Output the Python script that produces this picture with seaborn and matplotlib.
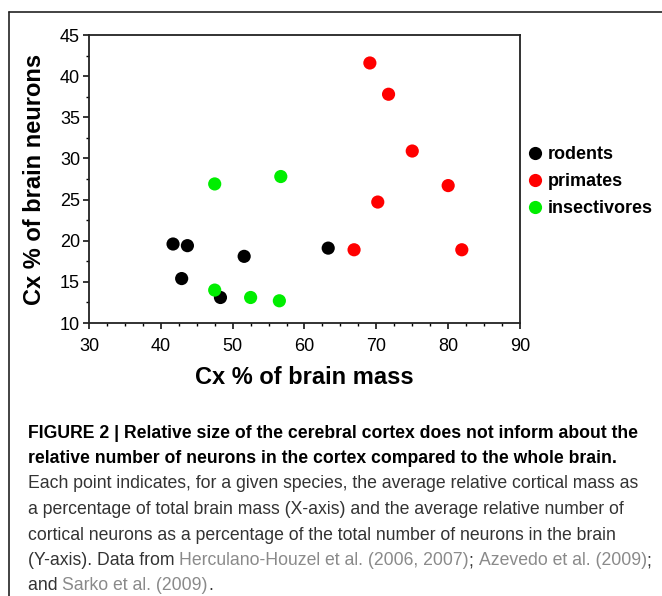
import matplotlib
matplotlib.use("Agg")
import matplotlib.pyplot as plt
from matplotlib.lines import Line2D
from matplotlib.ticker import MultipleLocator
import pandas as pd
import seaborn as sns

# values
rodents_x = [41.7, 43.7, 42.9, 48.3, 51.6, 63.3]
rodents_y = [19.6, 19.4, 15.4, 13.1, 18.1, 19.1]
primates_x = [69.1, 71.7, 75.0, 80.0, 70.2, 66.9, 81.9]
primates_y = [41.6, 37.8, 30.9, 26.7, 24.7, 18.9, 18.9]
insect_x = [47.5, 56.7, 47.5, 52.5, 56.5]
insect_y = [26.9, 27.8, 14.0, 13.1, 12.7]
groups = ["rodents", "primates", "insectivores"]
colors = {"rodents": "#000000", "primates": "#ff0000", "insectivores": "#00ee00"}

df = pd.concat([
    pd.DataFrame({"mass": rodents_x, "neurons": rodents_y, "group": "rodents"}),
    pd.DataFrame({"mass": primates_x, "neurons": primates_y, "group": "primates"}),
    pd.DataFrame({"mass": insect_x, "neurons": insect_y, "group": "insectivores"}),
])

sns.set_style("ticks")
plt.rcParams["font.family"] = ["Liberation Sans", "DejaVu Sans"]
plt.rcParams["text.color"] = "black"
plt.rcParams["axes.labelcolor"] = "black"
plt.rcParams["xtick.color"] = "black"
plt.rcParams["ytick.color"] = "black"

W, H = 662, 596
fig = plt.figure(figsize=(W / 100, H / 100), dpi=100)
ax = fig.add_axes([89 / W, 1 - 323 / H, (520 - 89) / W, (323 - 35) / H])

sns.scatterplot(data=df, x="mass", y="neurons", hue="group", hue_order=groups,
                palette=colors, s=90, edgecolor="none", ax=ax, legend=False)

ax.set_xlim(30, 90)
ax.set_ylim(10, 45)
ax.xaxis.set_major_locator(MultipleLocator(10))
ax.xaxis.set_minor_locator(MultipleLocator(2.5))
ax.yaxis.set_major_locator(MultipleLocator(5))
ax.yaxis.set_minor_locator(MultipleLocator(2.5))
ax.tick_params(which="major", length=4.5, width=1.1, labelsize=13, color="black")
ax.tick_params(axis="x", which="major", pad=6)
ax.tick_params(axis="y", which="major", pad=2)
ax.tick_params(which="minor", length=2.5, width=1.0, color="black")
for sp in ax.spines.values():
    sp.set_visible(True)
    sp.set_linewidth(1.3)
    sp.set_color("#222222")

ax.set_xlabel("Cx % of brain mass", fontsize=17, fontweight="bold", labelpad=8)
ax.set_ylabel("Cx % of brain neurons", fontsize=17, fontweight="bold", labelpad=10)

handles = [Line2D([], [], marker="o", linestyle="none", markersize=9.5,
                  markerfacecolor=colors[g], markeredgecolor="none") for g in groups]
fig.legend(handles, groups, loc="upper left", bbox_to_anchor=(508 / W, 1 - 130 / H),
           frameon=False, handletextpad=0.1, labelspacing=0.55,
           handlelength=1.2, prop={"weight": "bold", "size": 13})

# frame around the figure panel
fig.add_artist(Line2D([9 / W, 9 / W], [0, 1 - 12 / H], color="#222222", lw=1.2))
fig.add_artist(Line2D([9 / W, 1], [1 - 12 / H, 1 - 12 / H], color="#222222", lw=1.2))

# caption
cap = fig.add_axes([0, 0, 1, 1])
cap.axis("off")
cap.set_zorder(-1)
cfont = ["Liberation Sans", "DejaVu Sans"]
dark = "#333333"
grey = "#8a8a8a"
x0 = 28 / W
lines = [
    [("FIGURE 2 | Relative size of the cerebral cortex does not inform about the", "black", "bold")],
    [("relative number of neurons in the cortex compared to the whole brain.", "black", "bold")],
    [("Each point indicates, for a given species, the average relative cortical mass as", dark, "normal")],
    [("a percentage of total brain mass (X-axis) and the average relative number of", dark, "normal")],
    [("cortical neurons as a percentage of the total number of neurons in the brain", dark, "normal")],
    [("(Y-axis). Data from ", dark, "normal"),
     ("Herculano-Houzel et al. (2006, 2007)", grey, "normal"),
     ("; ", dark, "normal"),
     ("Azevedo et al. (2009)", grey, "normal"),
     (";", dark, "normal")],
    [("and ", dark, "normal"),
     ("Sarko et al. (2009)", grey, "normal"),
     (".", dark, "normal")],
]
baselines = [438, 463, 488, 514, 540, 565, 590]
for parts, base in zip(lines, baselines):
    prev = None
    for s, c, w in parts:
        if prev is None:
            prev = cap.text(x0, 1 - base / H, s, color=c, fontweight=w, fontsize=12.7,
                            family=cfont, ha="left", va="baseline",
                            transform=cap.transAxes)
        else:
            prev = cap.annotate(s, xy=(1, 0), xycoords=prev, color=c, fontweight=w,
                                fontsize=12.7, family=cfont, ha="left", va="bottom")

fig.savefig("out.png", dpi=100)
